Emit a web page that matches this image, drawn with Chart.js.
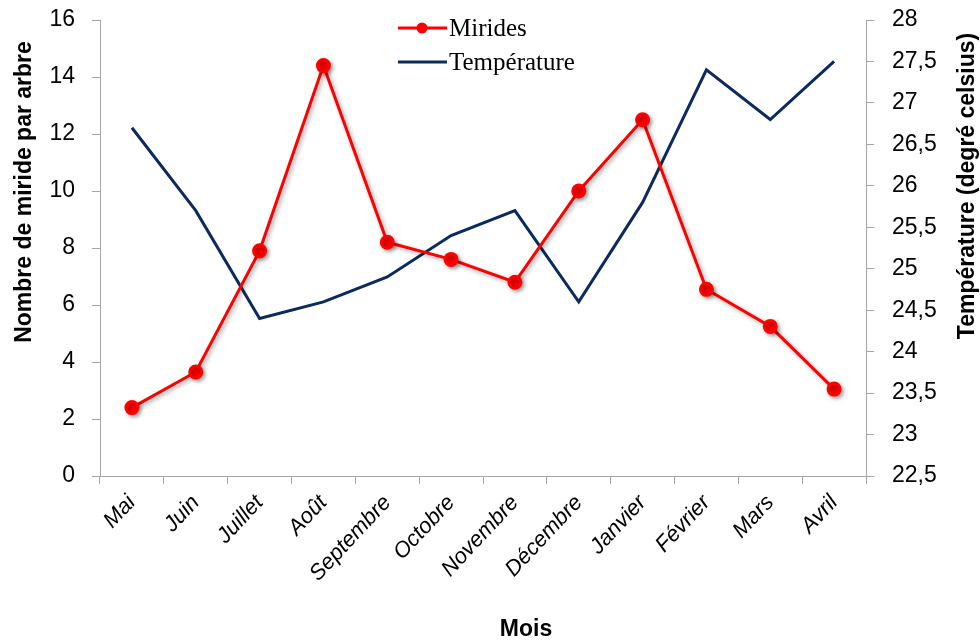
<!DOCTYPE html>
<html lang="fr">
<head>
<meta charset="utf-8">
<title>Mirides et température</title>
<script src="https://cdn.jsdelivr.net/npm/chart.js@4/dist/chart.umd.min.js"></script>
<style>
  html, body { margin: 0; padding: 0; background: #fff; }
  #wrap { width: 980px; height: 643px; }
</style>
</head>
<body>
<div id="wrap"><canvas id="c" width="980" height="643"></canvas></div>
<script>
// Mois d'observation
const months = ['Mai', 'Juin', 'Juillet', 'Août', 'Septembre', 'Octobre', 'Novembre',
                'Décembre', 'Janvier', 'Février', 'Mars', 'Avril'];
// Nombre moyen de mirides par arbre
const mirides = [2.4, 3.65, 7.9, 14.4, 8.2, 7.6, 6.8, 10.0, 12.5, 6.55, 5.25, 3.05];
// Température moyenne mensuelle (°C)
const temperature = [26.7, 25.7, 24.4, 24.6, 24.9, 25.4, 25.7, 24.6, 25.8, 27.4, 26.8, 27.5];

// Axes
const leftTicks = { min: 0, max: 16, step: 2 };
const rightTicks = { min: 22.5, max: 28, step: 0.5 };

const axisTitles = {
  x: 'Mois',
  left: 'Nombre de miride par arbre',
  right: 'Température (degré celsius)'
};

const NARROW = '"Liberation Sans Narrow", "Arial Narrow", "Liberation Sans", sans-serif';
const SERIF = '"Liberation Serif", "Times New Roman", serif';
const AXIS_GREY = '#a6a6a6';

const frNum = v => String(v).replace('.', ',');

// Largeur fixe des axes verticaux, sans marge supplémentaire pour les étiquettes
const fitVertical = width => s => {
  s.width = width;
  s.paddingTop = 0;
  s.paddingBottom = 0;
};

// Ombre portée légère sous la série des mirides
const shadowPlugin = {
  id: 'seriesShadow',
  beforeDatasetDraw(chart, args) {
    if (args.index !== 0) return;
    const ctx = chart.ctx;
    ctx.save();
    ctx.shadowColor = 'rgba(0,0,0,0.35)';
    ctx.shadowBlur = 4;
    ctx.shadowOffsetX = 2;
    ctx.shadowOffsetY = 2;
  },
  afterDatasetDraw(chart, args) {
    if (args.index !== 0) return;
    chart.ctx.restore();
  }
};

// Titres d'axes et légende dessinés à la main
const decorPlugin = {
  id: 'decor',
  afterDraw(chart) {
    const ctx = chart.ctx;
    ctx.save();
    ctx.fillStyle = '#000';
    ctx.textAlign = 'center';
    ctx.textBaseline = 'middle';

    ctx.font = 'bold 23px ' + NARROW;
    ctx.fillText(axisTitles.x, 526, 630);

    ctx.save();
    ctx.translate(25, 192);
    ctx.rotate(-Math.PI / 2);
    ctx.fillText(axisTitles.left, 0, 0);
    ctx.restore();

    ctx.save();
    ctx.translate(968, 186);
    ctx.rotate(-Math.PI / 2);
    ctx.fillText(axisTitles.right, 0, 0);
    ctx.restore();

    // Légende
    const rows = [
      { ds: chart.data.datasets[0], y: 28 },
      { ds: chart.data.datasets[1], y: 62 }
    ];
    ctx.textAlign = 'left';
    ctx.font = '25px ' + SERIF;
    rows.forEach(r => {
      ctx.strokeStyle = r.ds.borderColor;
      ctx.lineWidth = 3;
      ctx.beginPath();
      ctx.moveTo(398, r.y);
      ctx.lineTo(447, r.y);
      ctx.stroke();
      if (r.ds.pointRadius > 0) {
        ctx.fillStyle = r.ds.pointBackgroundColor;
        ctx.beginPath();
        ctx.arc(422, r.y, 5.5, 0, Math.PI * 2);
        ctx.fill();
      }
      ctx.fillStyle = '#000';
      ctx.fillText(r.ds.label, 449, r.y + 1);
    });
    ctx.restore();
  }
};

new Chart(document.getElementById('c'), {
  type: 'line',
  data: {
    labels: months,
    datasets: [
      {
        label: 'Mirides',
        data: mirides,
        yAxisID: 'y',
        borderColor: '#ff0000',
        backgroundColor: '#ff0000',
        pointBackgroundColor: '#ff0000',
        pointBorderColor: '#ff0000',
        pointRadius: 6,
        borderWidth: 3,
        tension: 0,
        order: 1
      },
      {
        label: 'Température',
        data: temperature,
        yAxisID: 'y1',
        borderColor: '#0b2a5e',
        backgroundColor: '#0b2a5e',
        pointBackgroundColor: '#0b2a5e',
        pointRadius: 0,
        borderWidth: 3,
        tension: 0,
        order: 2
      }
    ]
  },
  options: {
    responsive: false,
    animation: false,
    layout: { padding: { top: 20, left: 0, right: 0, bottom: 0 } },
    plugins: {
      legend: { display: false },
      tooltip: { enabled: false }
    },
    scales: {
      x: {
        offset: true,
        afterFit(s) { s.height = 167; },
        border: { display: true, color: AXIS_GREY, width: 1 },
        grid: { display: true, drawOnChartArea: false, drawTicks: true, tickLength: 8, color: AXIS_GREY, offset: true },
        ticks: {
          color: '#000',
          font: { family: NARROW, size: 22, style: 'italic' },
          minRotation: 47, maxRotation: 47,
          padding: 6,
          autoSkip: false
        }
      },
      y: {
        position: 'left',
        min: leftTicks.min, max: leftTicks.max,
        afterFit: fitVertical(100),
        border: { display: true, color: AXIS_GREY, width: 1 },
        grid: { display: true, drawOnChartArea: false, drawTicks: true, tickLength: 8, color: AXIS_GREY },
        ticks: {
          stepSize: leftTicks.step,
          color: '#000',
          padding: 17,
          font: { family: NARROW, size: 23 }
        }
      },
      y1: {
        position: 'right',
        min: rightTicks.min, max: rightTicks.max,
        afterFit: fitVertical(114),
        border: { display: true, color: AXIS_GREY, width: 1 },
        grid: { display: true, drawOnChartArea: false, drawTicks: true, tickLength: 8, color: AXIS_GREY },
        ticks: {
          stepSize: rightTicks.step,
          color: '#000',
          padding: 18,
          font: { family: NARROW, size: 23 },
          callback: v => frNum(v)
        }
      }
    }
  },
  plugins: [shadowPlugin, decorPlugin]
});
</script>
</body>
</html>
